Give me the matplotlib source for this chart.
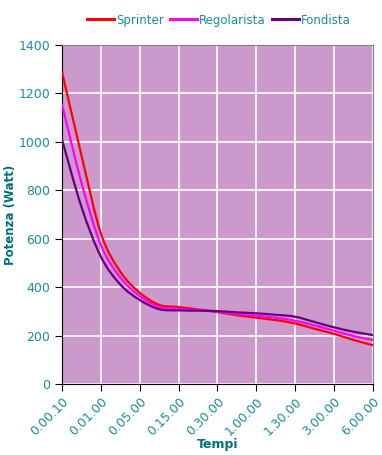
import matplotlib
matplotlib.use("Agg")
import matplotlib.pyplot as plt
from matplotlib.path import Path
from matplotlib.patches import PathPatch
from matplotlib.lines import Line2D

# data
tempi = ["0.00.10", "0.00.30", "0.01.00", "0.02.00", "0.05.00", "0.10.00",
         "0.15.00", "0.20.00", "0.30.00", "0.45.00", "1.00.00", "1.15.00",
         "1.30.00", "2.00.00", "3.00.00", "4.00.00", "6.00.00"]
sprinter = [1290, 945, 622, 464, 377, 327, 318, 308, 297, 284, 274, 264,
            250, 228, 207, 182, 160]
regolarista = [1155, 832, 574, 440, 363, 318, 311, 305, 299, 289, 282, 274,
               261, 242, 220, 198, 182]
fondista = [1010, 732, 526, 411, 347, 309, 304, 303, 301, 296, 292, 286,
            278, 256, 234, 216, 202]
label_every = 2

tick_col = "#1a8c9c"
lab_col = "#00707c"


def smooth_path(x, y):
    # smoothed line like the spreadsheet one (catmull-rom as bezier)
    verts = [(x[0], y[0])]
    codes = [Path.MOVETO]
    n = len(x)
    for i in range(n - 1):
        x0, y0 = (x[i - 1], y[i - 1]) if i > 0 else (x[i], y[i])
        x3, y3 = (x[i + 2], y[i + 2]) if i + 2 < n else (x[i + 1], y[i + 1])
        x1, y1 = x[i], y[i]
        x2, y2 = x[i + 1], y[i + 1]
        c1 = (x1 + (x2 - x0) / 6, y1 + (y2 - y0) / 6)
        c2 = (x2 - (x3 - x1) / 6, y2 - (y3 - y1) / 6)
        verts += [c1, c2, (x2, y2)]
        codes += [Path.CURVE4] * 3
    return Path(verts, codes)


fig = plt.figure(figsize=(3.82, 4.55), dpi=100)
ax = fig.add_axes([0.1623, 0.156, 0.8141, 0.745])
ax.set_facecolor("#cc99cc")

xs = list(range(len(tempi)))
series = [("Sprinter", sprinter, "#ff0000"),
          ("Regolarista", regolarista, "#ff00ff"),
          ("Fondista", fondista, "#660080")]
handles = []
for name, vals, col in series:
    p = PathPatch(smooth_path(xs, vals), facecolor="none", edgecolor=col,
                  lw=1.6, zorder=3)
    ax.add_patch(p)
    handles.append(Line2D([], [], color=col, lw=2.2, label=name))

ax.set_xlim(0, len(tempi) - 1)
ax.set_ylim(0, 1400)
ax.set_yticks(range(0, 1401, 200))
ax.set_xticks(xs[::label_every])
ax.set_xticklabels(tempi[::label_every], rotation=45, ha="right",
                   rotation_mode="anchor")
ax.grid(True, color="white", lw=1.2)
ax.set_axisbelow(True)

for s in ["top", "right"]:
    ax.spines[s].set_color("#808080")
for s in ["left", "bottom"]:
    ax.spines[s].set_color("black")
ax.tick_params(axis="both", colors="black", labelcolor=tick_col,
               labelsize=9, length=5, direction="out")
ax.tick_params(axis="x", pad=3)

ax.set_xlabel("Tempi", color=lab_col, fontsize=9, fontweight="bold",
              labelpad=0)
ax.set_ylabel("Potenza (Watt)", color=lab_col, fontsize=8.5,
              fontweight="bold")
ax.yaxis.set_label_coords(-0.145, 0.5)

fig.legend(handles=handles, loc="center", bbox_to_anchor=(0.573, 0.956),
           ncol=3, frameon=False, fontsize=8.5, labelcolor=tick_col,
           handlelength=2.3, handletextpad=0.2, columnspacing=0.5)

fig.savefig("out.png", dpi=100)
